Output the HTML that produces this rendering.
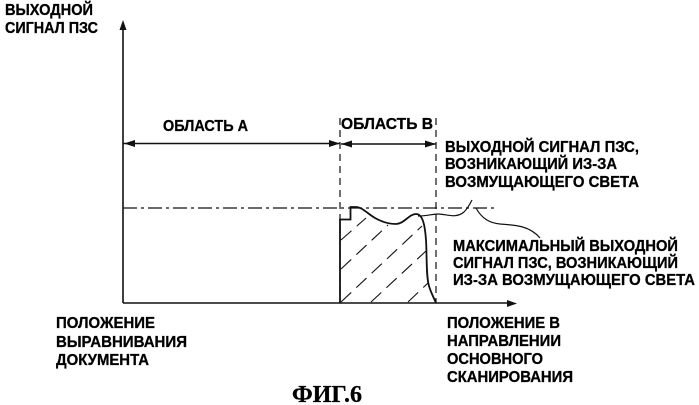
<!DOCTYPE html>
<html><head><meta charset="utf-8"><style>
html,body{margin:0;padding:0;background:#fff}
svg{display:block}
text{font-family:"Liberation Sans",sans-serif;font-weight:bold;font-size:16px;fill:#000;stroke:#000;stroke-width:.3px}
</style></head><body>
<svg width="699" height="405" viewBox="0 0 699 405" xmlns="http://www.w3.org/2000/svg">
<g fill="none" stroke="#111">
<path d="M123 303V26M123 303H510" stroke-width="1.6"/>
<path d="M123 143.500H340M341 144H436" stroke-width="1.5"/>
<path d="M340 118V303M436 118V303" stroke-width="1.2" stroke-dasharray="7 5"/>
<path d="M123 208H497" stroke-width="1.2" stroke-dasharray="14 4 3 4"/>
<path d="M340 303V219.500H350.500V207H356C362 207 368 214 375 218C382 222 388 224 396 224C404 224 409 214 416 214C423 214 425 226 426 240C427 256 426 276 429 286C431 293 434 298 436 303" stroke-width="1.8"/>
<path d="M418 216C428 216 432 214 438 214C446 214 456 219 464 212C468 208 470 204 472 200" stroke-width="1.2"/>
<path d="M476 208C482 219 490 223 500 224C516 225 530 226 540 238" stroke-width="1.2"/>
<g stroke-width="1.1" stroke-dasharray="14 7">
<path d="M341 240L366 218"/>
<path d="M341 269L388 225"/>
<path d="M341 302L422 226"/>
<path d="M371 302L426 251"/>
<path d="M408 302L428 283"/>
</g>
</g>
<g fill="#111">
<path d="M123 20L119.500 30H126.500Z"/>
<path d="M517 303.500L507 300V307Z"/>
<path d="M124 143.500L135 140V147Z"/>
<path d="M340 143.500L329 140V147Z"/>
<path d="M341 144L352 140.500V147.500Z"/>
<path d="M436 144L425 140.500V147.500Z"/>
</g>
<text x="5" y="15" textLength="88" lengthAdjust="spacingAndGlyphs">ВЫХОДНОЙ</text>
<text x="5" y="33" textLength="93" lengthAdjust="spacingAndGlyphs">СИГНАЛ ПЗС</text>
<text x="163" y="131" textLength="85" lengthAdjust="spacingAndGlyphs">ОБЛАСТЬ А</text>
<text x="341" y="129" textLength="92" lengthAdjust="spacingAndGlyphs">ОБЛАСТЬ В</text>
<text x="445" y="152" textLength="194" lengthAdjust="spacingAndGlyphs">ВЫХОДНОЙ СИГНАЛ ПЗС,</text>
<text x="445" y="169" textLength="172" lengthAdjust="spacingAndGlyphs">ВОЗНИКАЮЩИЙ ИЗ-ЗА</text>
<text x="445" y="187" textLength="194" lengthAdjust="spacingAndGlyphs">ВОЗМУЩАЮЩЕГО СВЕТА</text>
<text x="453" y="251" textLength="225" lengthAdjust="spacingAndGlyphs">МАКСИМАЛЬНЫЙ ВЫХОДНОЙ</text>
<text x="453" y="268" textLength="225" lengthAdjust="spacingAndGlyphs">СИГНАЛ ПЗС, ВОЗНИКАЮЩИЙ</text>
<text x="453" y="285" textLength="242" lengthAdjust="spacingAndGlyphs">ИЗ-ЗА ВОЗМУЩАЮЩЕГО СВЕТА</text>
<text x="56" y="328" textLength="99" lengthAdjust="spacingAndGlyphs">ПОЛОЖЕНИЕ</text>
<text x="56" y="347" textLength="131" lengthAdjust="spacingAndGlyphs">ВЫРАВНИВАНИЯ</text>
<text x="56" y="365" textLength="93" lengthAdjust="spacingAndGlyphs">ДОКУМЕНТА</text>
<text x="447" y="328" textLength="113" lengthAdjust="spacingAndGlyphs">ПОЛОЖЕНИЕ В</text>
<text x="447" y="346" textLength="114" lengthAdjust="spacingAndGlyphs">НАПРАВЛЕНИИ</text>
<text x="447" y="364" textLength="96" lengthAdjust="spacingAndGlyphs">ОСНОВНОГО</text>
<text x="447" y="382" textLength="126" lengthAdjust="spacingAndGlyphs">СКАНИРОВАНИЯ</text>
<text x="292" y="402" textLength="70" lengthAdjust="spacingAndGlyphs" style="font-family:'Liberation Serif',serif;font-size:24px">ФИГ.6</text>
</svg>
</body></html>
